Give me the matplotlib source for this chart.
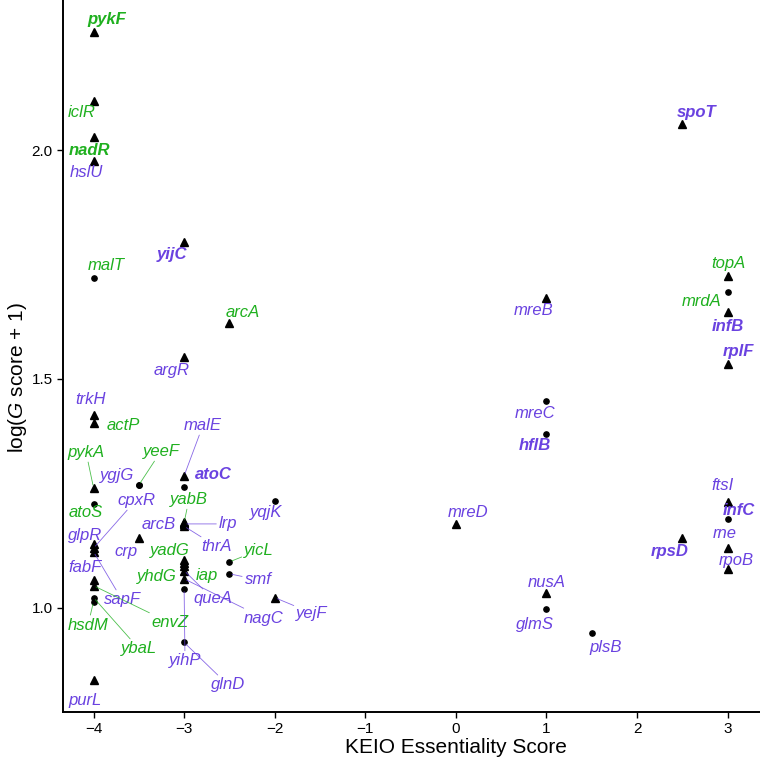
import matplotlib
matplotlib.use("Agg")
import matplotlib.pyplot as plt

plt.rcParams['font.family'] = ['Liberation Sans', 'DejaVu Sans']
plt.rcParams['mathtext.fontset'] = 'custom'
plt.rcParams['mathtext.it'] = 'Liberation Sans:italic'
plt.rcParams['mathtext.rm'] = 'Liberation Sans'

GREEN = '#1fb01f'
PURPLE = '#6a42e0'

# gene, KEIO score, log(G score + 1)
genes = ['pykF', 'iclR', 'nadR', 'hslU', 'malT', 'yijC', 'arcA', 'argR', 'trkH', 'actP',
         'malE', 'atoC', 'pykA', 'yeeF', 'ygjG', 'atoS', 'yqjK', 'yabB', 'arcB', 'lrp',
         'thrA', 'crp', 'glpR', 'cpxR', 'sapF', 'fabF', 'envZ', 'ybaL', 'hsdM', 'yadG',
         'iap', 'yhdG', 'queA', 'nagC', 'yihP', 'glnD', 'yicL', 'smf', 'yejF', 'purL',
         'mreD', 'nusA', 'glmS', 'plsB', 'mreB', 'mreC', 'hflB', 'spoT', 'topA', 'mrdA',
         'infB', 'rplF', 'ftsI', 'infC', 'rne', 'rpoB', 'rpsD']
keio = [-4, -4, -4, -4, -4, -3, -2.5, -3, -4, -4,
        -3, -3, -4, -3.5, -3.5, -4, -2, -3, -3, -3,
        -3, -3.5, -4, -4, -4, -4, -4, -4, -4, -3,
        -3, -3, -3, -3, -3, -3, -2.5, -2.5, -2, -4,
        0, 1, 1, 1.5, 1, 1, 1, 2.5, 3, 3,
        3, 3, 3, 3, 3, 3, 2.5]
gscore = [2.258, 2.107, 2.028, 1.976, 1.720, 1.800, 1.622, 1.548, 1.421, 1.404,
          1.288, 1.264, 1.262, 1.268, 1.268, 1.227, 1.234, 1.186, 1.188, 1.183,
          1.178, 1.153, 1.140, 1.130, 1.122, 1.061, 1.048, 1.022, 1.013, 1.105,
          1.098, 1.090, 1.081, 1.063, 1.041, 0.924, 1.100, 1.074, 1.022, 0.843,
          1.183, 1.033, 0.996, 0.945, 1.677, 1.452, 1.380, 2.057, 1.725, 1.690,
          1.646, 1.533, 1.231, 1.194, 1.131, 1.085, 1.153]
# marker shape: t = triangle, c = circle
shape = ['t', 't', 't', 't', 'c', 't', 't', 't', 't', 't',
         't', 'c', 't', 'c', 'c', 'c', 'c', 't', 't', 't',
         't', 't', 't', 't', 't', 't', 't', 'c', 'c', 't',
         't', 't', 't', 't', 'c', 'c', 'c', 'c', 't', 't',
         't', 't', 'c', 'c', 't', 'c', 'c', 't', 't', 'c',
         't', 't', 't', 'c', 't', 't', 't']
green_genes = ['pykF', 'iclR', 'nadR', 'malT', 'arcA', 'actP', 'pykA', 'yeeF', 'atoS',
               'yabB', 'envZ', 'ybaL', 'hsdM', 'yadG', 'iap', 'yhdG', 'yicL', 'topA', 'mrdA']
bold_genes = ['pykF', 'nadR', 'yijC', 'atoC', 'spoT', 'infB', 'rplF', 'hflB', 'infC', 'rpsD']
with_segment = ['pykA', 'yeeF', 'malE', 'cpxR', 'yabB', 'lrp', 'thrA', 'yicL', 'smf',
                'sapF', 'envZ', 'hsdM', 'ybaL', 'queA', 'nagC', 'yejF', 'yihP', 'glnD']

# where each label sits (repel-style placement)
label_pos = {
    'pykF': (-3.85, 2.286), 'iclR': (-4.127, 2.081), 'nadR': (-4.05, 2.0), 'hslU': (-4.083, 1.95),
    'malT': (-3.862, 1.747), 'yijC': (-3.134, 1.771), 'arcA': (-2.35, 1.646), 'argR': (-3.134, 1.519),
    'trkH': (-4.028, 1.454), 'actP': (-3.674, 1.399), 'malE': (-2.791, 1.399), 'pykA': (-4.083, 1.34),
    'yeeF': (-3.255, 1.342), 'ygjG': (-3.741, 1.288), 'atoC': (-2.681, 1.292), 'atoS': (-4.083, 1.207),
    'cpxR': (-3.531, 1.235), 'yabB': (-2.946, 1.237), 'yqjK': (-2.096, 1.207), 'arcB': (-3.277, 1.181),
    'lrp': (-2.515, 1.183), 'glpR': (-4.094, 1.157), 'crp': (-3.641, 1.122), 'thrA': (-2.637, 1.133),
    'yadG': (-3.156, 1.126), 'yicL': (-2.173, 1.126), 'fabF': (-4.094, 1.087), 'yhdG': (-3.299, 1.069),
    'iap': (-2.747, 1.071), 'smf': (-2.184, 1.061), 'sapF': (-3.685, 1.017), 'queA': (-2.681, 1.019),
    'nagC': (-2.118, 0.977), 'yejF': (-1.588, 0.988), 'hsdM': (-4.061, 0.962), 'envZ': (-3.156, 0.967),
    'ybaL': (-3.498, 0.91), 'yihP': (-2.99, 0.884), 'glnD': (-2.515, 0.831), 'purL': (-4.094, 0.798),
    'mreD': (0.134, 1.207), 'mreB': (0.862, 1.65), 'mreC': (0.873, 1.425), 'hflB': (0.873, 1.355),
    'mrdA': (2.715, 1.668), 'infB': (3.003, 1.615), 'rplF': (3.124, 1.559), 'topA': (3.003, 1.753),
    'spoT': (2.66, 2.081), 'ftsI': (2.947, 1.268), 'infC': (3.124, 1.213), 'rne': (2.97, 1.161),
    'rpsD': (2.363, 1.122), 'rpoB': (3.091, 1.104), 'nusA': (1.006, 1.056), 'glmS': (0.873, 0.964),
    'plsB': (1.657, 0.914),
}

fig = plt.figure(figsize=(7.6, 7.58), dpi=100)
# the original picture is cropped on the top and right, so the axes run past the figure edge
ax = fig.add_axes([63 / 760, 46 / 758, 786 / 760, 756 / 758])

tx = [k for k, s in zip(keio, shape) if s == 't']
ty = [g for g, s in zip(gscore, shape) if s == 't']
cx = [k for k, s in zip(keio, shape) if s == 'c']
cy = [g for g, s in zip(gscore, shape) if s == 'c']
ax.plot(tx, ty, '^', color='black', markersize=5.5, zorder=3)
ax.plot(cx, cy, 'o', color='black', markersize=3.8, zorder=3)

for name, x, y in zip(genes, keio, gscore):
    col = GREEN if name in green_genes else PURPLE
    wt = 'bold' if name in bold_genes else 'normal'
    lx, ly = label_pos[name]
    if name in with_segment:
        ax.annotate(name, xy=(x, y), xytext=(lx, ly), color=col, fontsize=12,
                    fontstyle='italic', fontweight=wt, ha='center', va='center',
                    bbox=dict(boxstyle='square,pad=0.15', fc='none', ec='none'),
                    arrowprops=dict(arrowstyle='-', color=col, lw=0.6, alpha=0.8,
                                    shrinkA=0, shrinkB=2))
    else:
        ax.text(lx, ly, name, color=col, fontsize=12, fontstyle='italic',
                fontweight=wt, ha='center', va='center')

ax.set_xlim(-4.337, 4.34)
ax.set_ylim(0.772, 2.424)
ax.set_xticks([-4, -3, -2, -1, 0, 1, 2, 3])
ax.set_yticks([1.0, 1.5, 2.0])
ax.set_yticklabels(['1.0', '1.5', '2.0'])
ax.tick_params(labelsize=11, length=4, width=1, colors='black')
for s in ['top', 'right']:
    ax.spines[s].set_visible(False)
for s in ['left', 'bottom']:
    ax.spines[s].set_linewidth(1.4)
ax.set_xlabel('KEIO Essentiality Score', fontsize=15)
ax.set_ylabel('log($\\mathit{G}$ score + 1)', fontsize=15)
# put the axis titles where the cropped original has them
ax.xaxis.set_label_coords((456 - 63) / 786, -26 / 756)
ax.yaxis.set_label_coords(-34 / 786, (712 - 378) / 756)

plt.savefig('out.png', dpi=100)
